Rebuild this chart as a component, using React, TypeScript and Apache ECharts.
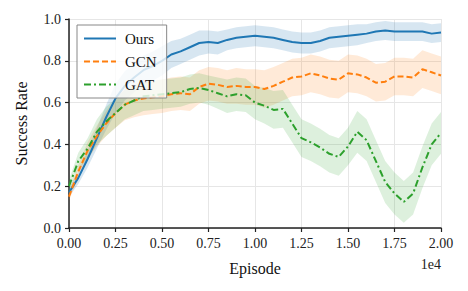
import React, { useEffect, useRef } from "react";
import * as echarts from "echarts";

const episodes: number[] = Array.from({ length: 41 }, (_, i) => i * 500);
const xTickLabels = ["0.00", "0.25", "0.50", "0.75", "1.00", "1.25", "1.50", "1.75", "2.00"];
const yTickLabels = ["0.0", "0.2", "0.4", "0.6", "0.8", "1.0"];

const oursMean = [0.17, 0.24, 0.33, 0.43, 0.53, 0.62, 0.68, 0.72, 0.755, 0.775, 0.8, 0.83, 0.845, 0.865, 0.885, 0.89, 0.885, 0.9, 0.91, 0.915, 0.92, 0.915, 0.91, 0.9, 0.89, 0.885, 0.885, 0.895, 0.91, 0.915, 0.92, 0.925, 0.93, 0.94, 0.945, 0.94, 0.94, 0.94, 0.94, 0.93, 0.935];
const oursStd = [0.02, 0.03, 0.04, 0.05, 0.06, 0.07, 0.07, 0.07, 0.07, 0.07, 0.07, 0.065, 0.06, 0.06, 0.06, 0.055, 0.055, 0.05, 0.05, 0.05, 0.05, 0.05, 0.05, 0.05, 0.05, 0.05, 0.05, 0.05, 0.05, 0.05, 0.05, 0.05, 0.045, 0.045, 0.045, 0.045, 0.045, 0.045, 0.045, 0.045, 0.045];

const gcnMean = [0.15, 0.27, 0.37, 0.44, 0.5, 0.55, 0.59, 0.61, 0.62, 0.625, 0.63, 0.64, 0.645, 0.64, 0.675, 0.69, 0.685, 0.675, 0.68, 0.675, 0.675, 0.665, 0.68, 0.7, 0.72, 0.725, 0.74, 0.73, 0.715, 0.71, 0.74, 0.735, 0.72, 0.695, 0.7, 0.725, 0.725, 0.72, 0.76, 0.745, 0.73];
const gcnStd = [0.02, 0.03, 0.04, 0.05, 0.06, 0.07, 0.075, 0.08, 0.08, 0.08, 0.08, 0.08, 0.08, 0.08, 0.08, 0.08, 0.08, 0.08, 0.085, 0.085, 0.085, 0.09, 0.09, 0.09, 0.09, 0.09, 0.09, 0.09, 0.09, 0.09, 0.09, 0.09, 0.09, 0.09, 0.09, 0.09, 0.09, 0.09, 0.09, 0.09, 0.09];

const gatMean = [0.2, 0.32, 0.38, 0.46, 0.51, 0.55, 0.59, 0.61, 0.63, 0.635, 0.64, 0.645, 0.65, 0.665, 0.67, 0.66, 0.645, 0.63, 0.64, 0.635, 0.6, 0.585, 0.565, 0.57, 0.5, 0.43, 0.41, 0.385, 0.355, 0.34, 0.39, 0.46, 0.42, 0.32, 0.22, 0.165, 0.125, 0.165, 0.29, 0.4, 0.455];
const gatStd = [0.03, 0.04, 0.05, 0.06, 0.07, 0.07, 0.07, 0.07, 0.07, 0.07, 0.07, 0.07, 0.07, 0.07, 0.07, 0.07, 0.075, 0.08, 0.08, 0.08, 0.08, 0.085, 0.09, 0.09, 0.09, 0.09, 0.09, 0.09, 0.09, 0.09, 0.09, 0.1, 0.1, 0.1, 0.1, 0.1, 0.1, 0.1, 0.1, 0.1, 0.1];

const FONT = "Liberation Serif";

function bandSeries(id: string, mean: number[], std: number[], color: string): any[] {
  const lower = mean.map((m, i) => +(m - std[i]).toFixed(4));
  const width = std.map((s) => +(2 * s).toFixed(4));
  return [
    {
      name: id + "-lo",
      type: "line",
      data: lower,
      stack: id,
      symbol: "none",
      lineStyle: { opacity: 0 },
      silent: true,
      z: 1,
    },
    {
      name: id + "-band",
      type: "line",
      data: width,
      stack: id,
      symbol: "none",
      lineStyle: { opacity: 0 },
      areaStyle: { color, opacity: 1 },
      silent: true,
      z: 1,
    },
  ];
}

export default function App() {
  const ref = useRef<HTMLDivElement>(null);
  useEffect(() => {
    if (!ref.current) return;
    const chart = echarts.init(ref.current, undefined, { renderer: "svg" });
    const labelStyle = { fontFamily: FONT, fontSize: 14, color: "#222" };
    chart.setOption({
      animation: false,
      textStyle: { fontFamily: FONT },
      grid: { left: 69, right: 27, top: 19, bottom: 63 },
      legend: {
        data: ["Ours", "GCN", "GAT"],
        orient: "vertical",
        left: 77,
        top: 25,
        itemWidth: 32,
        itemHeight: 12,
        itemGap: 8,
        padding: [6, 10, 6, 6],
        borderColor: "#888",
        borderWidth: 1,
        backgroundColor: "rgba(255,255,255,0.8)",
        textStyle: { fontFamily: FONT, fontSize: 15, color: "#111", padding: [0, 0, 0, 4] },
      },
      xAxis: {
        type: "category",
        data: episodes.map(String),
        boundaryGap: false,
        name: "Episode",
        nameLocation: "middle",
        nameGap: 32,
        nameTextStyle: { fontFamily: FONT, fontSize: 16, color: "#111" },
        axisLine: { lineStyle: { color: "#222", width: 1.5 } },
        axisTick: { interval: 4, length: 4, lineStyle: { color: "#222", width: 1.2 } },
        axisLabel: {
          interval: 4,
          ...labelStyle,
          margin: 8,
          formatter: (v: string) => xTickLabels[Math.round(Number(v) / 2500)] ?? "",
        },
        splitLine: { show: true, interval: 4, lineStyle: { color: "#e6e6e6", width: 1 } },
      },
      yAxis: {
        type: "value",
        min: 0,
        max: 1,
        interval: 0.2,
        name: "Success Rate",
        nameLocation: "middle",
        nameGap: 40,
        nameTextStyle: { fontFamily: FONT, fontSize: 16, color: "#111" },
        axisLine: { show: true, lineStyle: { color: "#222", width: 1.5 } },
        axisTick: { show: true, length: 4, lineStyle: { color: "#222", width: 1.2 } },
        axisLabel: {
          ...labelStyle,
          margin: 8,
          formatter: (v: number) => yTickLabels[Math.round(v / 0.2)] ?? "",
        },
        splitLine: { show: true, lineStyle: { color: "#e6e6e6", width: 1 } },
      },
      graphic: [
        {
          type: "text",
          right: 27,
          top: 257,
          style: { text: "1e4", font: `14px ${FONT}`, fill: "#222" },
        },
      ],
      series: [
        ...bandSeries("ours", oursMean, oursStd, "rgba(31,119,180,0.18)"),
        ...bandSeries("gcn", gcnMean, gcnStd, "rgba(255,127,14,0.16)"),
        ...bandSeries("gat", gatMean, gatStd, "rgba(44,160,44,0.16)"),
        {
          name: "Ours",
          type: "line",
          data: oursMean,
          symbol: "none",
          color: "#1f77b4",
          itemStyle: { opacity: 0 },
          lineStyle: { color: "#1f77b4", width: 2 },
          z: 3,
        },
        {
          name: "GCN",
          type: "line",
          data: gcnMean,
          symbol: "none",
          color: "#ff7f0e",
          itemStyle: { opacity: 0 },
          lineStyle: { color: "#ff7f0e", width: 2, type: [6, 3] },
          z: 3,
        },
        {
          name: "GAT",
          type: "line",
          data: gatMean,
          symbol: "none",
          color: "#2ca02c",
          itemStyle: { opacity: 0 },
          lineStyle: { color: "#2ca02c", width: 2, type: [7, 3, 2, 3] },
          z: 3,
        },
      ],
    });
    return () => chart.dispose();
  }, []);
  return <div ref={ref} style={{ width: 468, height: 291, margin: -8 }} />;
}
